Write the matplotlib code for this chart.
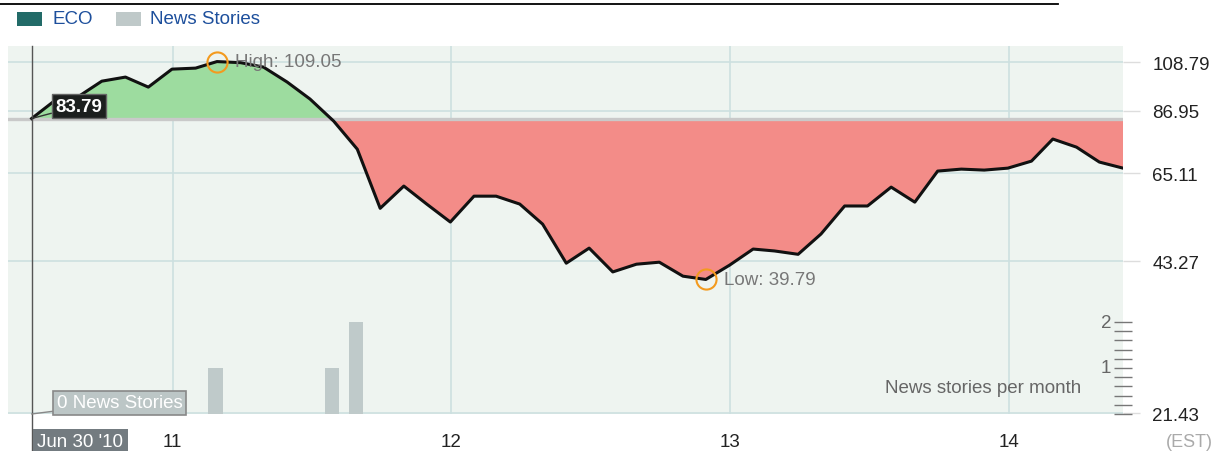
import matplotlib
matplotlib.use('Agg')
import matplotlib.pyplot as plt
import matplotlib.transforms as mtransforms
from matplotlib.patches import Rectangle
from matplotlib.ticker import NullLocator, FixedLocator
from matplotlib.lines import Line2D
import pandas as pd

plt.rcParams['font.family'] = ['Liberation Sans', 'DejaVu Sans']

# monthly closes, Jun 2010 .. May 2014
months = pd.date_range('2010-06-30', periods=48, freq='ME')
eco_close = [83.79, 91.2, 92.9, 99.6, 101.5, 96.9, 105.3, 105.8, 109.05, 108.5,
             106.3, 99.2, 91.7, 82.8, 72.7, 55.3, 61.3, 56.4, 51.9, 58.5,
             58.5, 56.4, 51.4, 42.9, 46.0, 41.2, 42.7, 43.1, 40.4, 39.79,
             42.5, 45.8, 45.4, 44.7, 49.1, 55.9, 55.9, 61.0, 56.9, 65.7,
             66.3, 66.0, 66.6, 68.8, 76.2, 73.4, 68.5, 66.6]

news_dates = pd.to_datetime(['2011-02-26', '2011-07-29', '2011-08-29'])
news_counts = [1, 1, 2]

price_ticks = [21.43, 43.27, 65.11, 86.95, 108.79]
year_ticks = pd.to_datetime(['2011-01-01', '2012-01-01', '2013-01-01', '2014-01-01'])
year_labels = ['11', '12', '13', '14']

FS = 13.5
W, H = 1214, 452
fig = plt.figure(figsize=(W / 100, H / 100), dpi=100)
ax = fig.add_axes([8 / W, 1 - 415 / H, 1115 / W, 368 / H])
ax2 = ax.twinx()   # news stories, own linear scale
ax.set_facecolor('#eef4f0')
for s in list(ax.spines.values()) + list(ax2.spines.values()):
    s.set_visible(False)

base = eco_close[0]
ax.set_yscale('log')
ax.set_ylim(21.35, 117.2)
ax.set_xlim(months[0] - pd.Timedelta(days=31), months[-1])

# price axis on the right
ax.yaxis.set_major_locator(FixedLocator(price_ticks))
ax.yaxis.set_minor_locator(NullLocator())
ax.set_yticklabels(['%.2f' % t for t in price_ticks])
ax.yaxis.tick_right()
ax.tick_params(axis='y', left=False, right=True, labelleft=False, labelright=True,
               length=12, width=1, color='#dddddd', labelsize=FS,
               labelcolor='#222222', pad=9)
ax.set_xticks(year_ticks)
ax.set_xticklabels(year_labels)
ax.tick_params(axis='x', length=0, labelsize=FS, labelcolor='#222222', pad=14)
ax.grid(True, color='#cde0e0', lw=1.2)
ax.set_axisbelow(True)

# area above / below the start value
ax.fill_between(months, eco_close, base, where=[v >= base for v in eco_close],
                interpolate=True, color='#9ddc9f', lw=0, zorder=2)
ax.fill_between(months, eco_close, base, where=[v <= base for v in eco_close],
                interpolate=True, color='#f38c88', lw=0, zorder=2)
ax.axhline(base, color='#c9c9c9', lw=2.4, zorder=3)
ax.plot(months, eco_close, color='#111111', lw=2.2, zorder=4, solid_joinstyle='round')

# high / low markers
i_hi = eco_close.index(max(eco_close))
i_lo = eco_close.index(min(eco_close))
for i, lab in [(i_hi, 'High: %.2f' % max(eco_close)), (i_lo, 'Low: %.2f' % min(eco_close))]:
    ax.plot(months[i], eco_close[i], 'o', mfc='none', mec='#f39a1e', ms=14.5, mew=1.5, zorder=5)
    ax.annotate(lab, (months[i], eco_close[i]), xytext=(13, 0), textcoords='offset points',
                va='center', ha='left', fontsize=FS, color='#777777', zorder=6)

# cursor line and start value
ax.axvline(months[0], ymin=-0.11, ymax=1, color='#555555', lw=1, clip_on=False, zorder=6)
ax.annotate('%.2f' % base, (months[0], base), xytext=(17, 9), textcoords='offset points',
            va='center', ha='left', fontsize=FS, color='white', fontweight='bold', zorder=7,
            bbox=dict(boxstyle='square,pad=0.18', fc='#1c1f1e', ec='#666666', lw=1),
            arrowprops=dict(arrowstyle='-', color='#333333', lw=1, shrinkA=0, shrinkB=0))

# news stories bars
ax2.set_ylim(0, 8)
ax2.set_xlim(ax.get_xlim())
ax2.bar(news_dates, news_counts, width=19, color='#bfcaca', zorder=2)
ax2.set_yticks([k * 0.2 for k in range(11)])
ax2.set_yticklabels([])
ax2.tick_params(axis='y', direction='inout', length=13, width=1, color='#777777')
tr = mtransforms.blended_transform_factory(ax2.transAxes, ax2.transData)
for v in [1, 2]:
    ax2.text(0.9895, v, str(v), transform=tr, ha='right', va='center',
             fontsize=FS, color='#666666')
ax2.text(0.963, 0.58, 'News stories per month', transform=tr, ha='right', va='center',
         fontsize=FS, color='#666666')
ax2.annotate('0 News Stories', (months[0], 0), xytext=(18, 2), textcoords='offset points',
             va='bottom', ha='left', fontsize=FS, color='white', zorder=7,
             bbox=dict(boxstyle='square,pad=0.18', fc='#bcc6c6', ec='#888888', lw=1.2),
             arrowprops=dict(arrowstyle='-', color='#888888', lw=1, shrinkA=0, shrinkB=0))
ax2.annotate("Jun 30 '10", (months[0], 0), xytext=(4, -20), textcoords='offset points',
             va='center', ha='left', fontsize=FS, color='white', annotation_clip=False,
             bbox=dict(boxstyle='square,pad=0.25', fc='#737b80', ec='none'))

# legend and top rule
fig.add_artist(Line2D([0, 1058 / W], [1 - 5 / H, 1 - 5 / H], color='black', lw=1.3))
fig.add_artist(Rectangle((17 / W, 1 - 27 / H), 25 / W, 14 / H, fc='#226b68', ec='none'))
fig.text(52 / W, 1 - 20 / H, 'ECO', color='#1d4f9c', fontsize=FS, va='center')
fig.add_artist(Rectangle((116 / W, 1 - 27 / H), 25 / W, 14 / H, fc='#bfc9c9', ec='none'))
fig.text(150 / W, 1 - 20 / H, 'News Stories', color='#1d4f9c', fontsize=FS, va='center')
fig.text(1166 / W, 1 - 443 / H, '(EST)', color='#aaaaaa', fontsize=FS - 0.5, va='center')

fig.savefig('out.png', dpi=100)
